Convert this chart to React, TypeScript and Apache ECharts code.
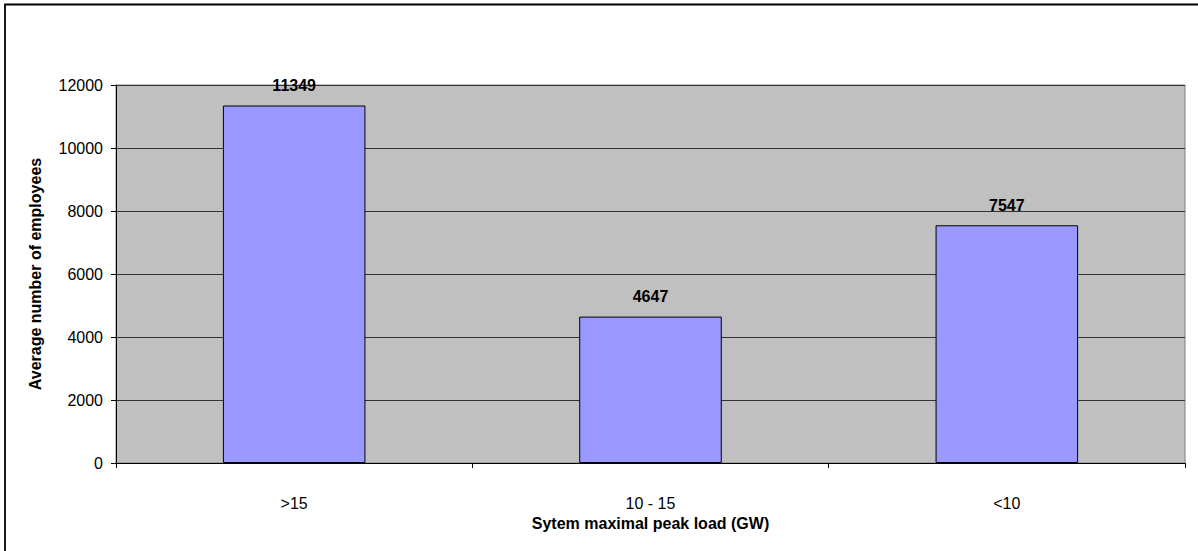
import React, { useEffect, useRef } from "react";
import * as echarts from "echarts";

const categories = [">15", "10 - 15", "<10"];
const values = [11349, 4647, 7547];
const yTicks = { min: 0, max: 12000, interval: 2000 };
const xTitle = "Sytem maximal peak load (GW)";
const yTitle = "Average number of employees";

export default function App() {
  const ref = useRef<HTMLDivElement>(null);
  useEffect(() => {
    if (!ref.current) return;
    const chart = echarts.init(ref.current, null, { renderer: "svg" });
    const font = "Arial, 'Liberation Sans', sans-serif";
    chart.setOption({
      animation: false,
      textStyle: { fontFamily: font },
      grid: {
        left: 116,
        right: 13,
        top: 85,
        bottom: 88,
        show: true,
        backgroundColor: "#C0C0C0",
        borderColor: "#808080",
        borderWidth: 1,
      },
      graphic: [
        {
          type: "rect",
          shape: { x: 5, y: 4.5, width: 1400, height: 800 },
          style: { fill: "none", stroke: "#000", lineWidth: 1.8 },
          silent: true,
        },
      ],
      xAxis: {
        type: "category",
        data: categories,
        boundaryGap: true,
        axisLine: { show: true, lineStyle: { color: "#000", width: 1 } },
        axisTick: { show: true, alignWithLabel: false, length: 5, lineStyle: { color: "#000" } },
        axisLabel: { color: "#000", fontSize: 16, margin: 32, fontFamily: font },
        name: xTitle,
        nameLocation: "middle",
        nameGap: 50,
        nameTextStyle: { color: "#000", fontSize: 16, fontWeight: "bold", fontFamily: font },
        splitLine: { show: false },
      },
      yAxis: {
        type: "value",
        min: yTicks.min,
        max: yTicks.max,
        interval: yTicks.interval,
        axisLine: { show: true, lineStyle: { color: "#000", width: 1 } },
        axisTick: { show: true, length: 5, lineStyle: { color: "#000" } },
        axisLabel: {
          color: "#000",
          fontSize: 16,
          margin: 13,
          fontFamily: font,
          formatter: (v: number) => String(v),
        },
        splitLine: { show: true, lineStyle: { color: "#333", width: 1 } },
        name: yTitle,
        nameLocation: "middle",
        nameGap: 73,
        nameTextStyle: { color: "#000", fontSize: 16, fontWeight: "bold", fontFamily: font },
      },
      series: [
        {
          type: "bar",
          data: values,
          barCategoryGap: "60%",
          itemStyle: { color: "#9999FF", borderColor: "#000", borderWidth: 1 },
          label: {
            show: true,
            position: "top",
            distance: 12,
            color: "#000",
            fontSize: 16,
            fontWeight: "bold",
            fontFamily: font,
          },
        },
      ],
    });
    return () => chart.dispose();
  }, []);
  return (
    <div
      ref={ref}
      style={{ position: "fixed", left: 0, top: 0, width: 1198, height: 551, background: "#fff" }}
    />
  );
}
